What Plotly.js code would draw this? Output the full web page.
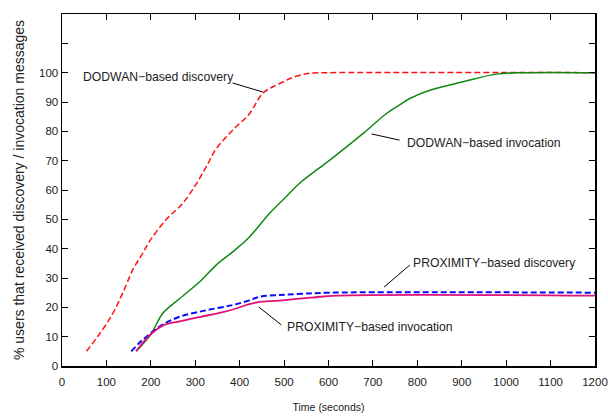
<!DOCTYPE html>
<html>
<head>
<meta charset="utf-8">
<script src="https://cdn.plot.ly/plotly-3.0.1.min.js"></script>
<style>html,body{margin:0;padding:0;background:#fff;}#chart{width:608px;height:416px;}</style>
</head>
<body>
<div id="chart"></div>
<script>
// Time (seconds) and % users
const dodwanDiscX = [55, 80, 111, 137, 160, 180, 197, 235, 272, 302, 325, 347, 385, 422, 452, 475, 500, 513, 540, 558, 600, 1200];
const dodwanDiscY = [5, 10, 17, 25, 33, 38, 42.5, 50, 55.5, 62, 68, 74, 80.5, 86, 93, 95.2, 97, 98, 99.3, 99.8, 100, 100];

const dodwanInvX = [167, 185, 201, 227, 265, 310, 347, 385, 422, 467, 500, 535, 603, 678, 730, 760, 783, 828, 903, 978, 1040, 1200];
const dodwanInvY = [5, 8, 11, 18, 23, 28.7, 34.4, 39, 44, 52, 57, 62.3, 70.2, 79.3, 86, 89, 91.2, 94, 96.9, 99.5, 100, 100];

const proxDiscX = [156, 175, 190, 220, 265, 325, 385, 420, 445, 490, 540, 600, 1200];
const proxDiscY = [5, 8, 10, 13.5, 16.8, 19, 20.8, 22.3, 23.6, 24.2, 24.6, 25, 25];

const proxInvX = [167, 185, 205, 230, 265, 310, 360, 392, 415, 440, 490, 560, 620, 1200];
const proxInvY = [5, 8.5, 11.5, 14, 15.2, 16.7, 18.3, 19.6, 20.8, 21.7, 22.3, 23.3, 24, 24];

const xTicks = [0, 100, 200, 300, 400, 500, 600, 700, 800, 900, 1000, 1100, 1200];
const yTicks = [0, 10, 20, 30, 40, 50, 60, 70, 80, 90, 100, 110];
const yTickText = ['0', '10', '20', '30', '40', '50', '60', '70', '80', '90', '100', ''];

const labels = ['DODWAN\u2212based discovery', 'DODWAN\u2212based invocation', 'PROXIMITY\u2212based discovery', 'PROXIMITY\u2212based invocation'];

const font = {family: '"Liberation Sans", Arial, sans-serif', color: '#222'};

const traces = [
  {x: dodwanDiscX, y: dodwanDiscY, mode: 'lines', line: {color: '#ff1010', width: 1.5, dash: '6px,3px', shape: 'spline', smoothing: 1}},
  {x: dodwanInvX, y: dodwanInvY, mode: 'lines', line: {color: '#118811', width: 1.5, shape: 'spline', smoothing: 1}},
  {x: proxDiscX, y: proxDiscY, mode: 'lines', line: {color: '#0a0aff', width: 2, dash: '6px,3px', shape: 'spline', smoothing: 1}},
  {x: proxInvX, y: proxInvY, mode: 'lines', line: {color: '#dd1177', width: 1.8, shape: 'spline', smoothing: 1}}
];

const annFont = Object.assign({}, font, {size: 12.2});
const layout = {
  width: 608, height: 416,
  margin: {l: 62, r: 13, t: 14, b: 50},
  paper_bgcolor: '#fff', plot_bgcolor: '#fff',
  showlegend: false,
  font: Object.assign({}, font, {size: 11.5}),
  xaxis: {
    range: [0, 1200], tickvals: xTicks, ticks: 'inside', ticklen: 6, tickcolor: '#000', tickwidth: 1,
    showline: true, linecolor: '#000', linewidth: 1.5, mirror: 'ticks', showgrid: false, zeroline: false,
    ticklabelstandoff: 5,
    title: {text: 'Time (seconds)', font: Object.assign({}, font, {size: 10.5}), standoff: 16},
    tickfont: Object.assign({}, font, {size: 11.5})
  },
  yaxis: {
    range: [0, 120], tickvals: yTicks, ticktext: yTickText, ticks: 'inside', ticklen: 6, tickcolor: '#000', tickwidth: 1,
    showline: true, linecolor: '#000', linewidth: 1.5, mirror: 'ticks', showgrid: false, zeroline: false,
    title: {text: '% users that received discovery / invocation messages', font: Object.assign({}, font, {size: 14}), standoff: 11},
    tickfont: Object.assign({}, font, {size: 11.5})
  },
  annotations: [
    {x: 42, y: 98.5, xref: 'x', yref: 'y', text: labels[0], showarrow: false, xanchor: 'left', yanchor: 'middle', font: annFont},
    {x: 772, y: 76, xref: 'x', yref: 'y', text: labels[1], showarrow: false, xanchor: 'left', yanchor: 'middle', font: annFont},
    {x: 785, y: 35.2, xref: 'x', yref: 'y', text: labels[2], showarrow: false, xanchor: 'left', yanchor: 'middle', font: annFont},
    {x: 501, y: 13.4, xref: 'x', yref: 'y', text: labels[3], showarrow: false, xanchor: 'left', yanchor: 'middle', font: annFont}
  ],
  shapes: [
    {type: 'line', xref: 'x', yref: 'y', x0: 384, y0: 96.5, x1: 452, y1: 93.4, line: {color: '#000', width: 1}},
    {type: 'line', xref: 'x', yref: 'y', x0: 697, y0: 79.1, x1: 760, y1: 77, line: {color: '#000', width: 1}},
    {type: 'line', xref: 'x', yref: 'y', x0: 725, y0: 26.9, x1: 783, y1: 34.4, line: {color: '#000', width: 1}},
    {type: 'line', xref: 'x', yref: 'y', x0: 443, y0: 20.1, x1: 494, y1: 14.0, line: {color: '#000', width: 1}}
  ]
};

Plotly.newPlot('chart', traces, layout, {displayModeBar: false, staticPlot: true});
</script>
</body>
</html>
